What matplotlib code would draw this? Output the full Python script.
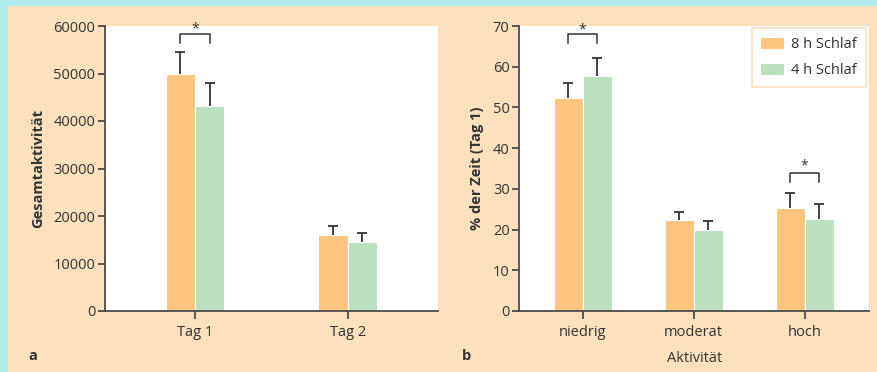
import matplotlib
matplotlib.use("Agg")
import matplotlib.pyplot as plt
from matplotlib.patches import Rectangle
import numpy as np

plt.rcParams['font.family'] = ['Open Sans', 'DejaVu Sans']

# ---- data ----
series = ["8 h Schlaf", "4 h Schlaf"]
days = ["Tag 1", "Tag 2"]
total_8h = [50000, 16000]
total_8h_err = [4500, 2000]
total_4h = [43200, 14500]
total_4h_err = [4800, 2000]

levels = ["niedrig", "moderat", "hoch"]
pct_8h = [52.2, 22.3, 25.2]
pct_8h_err = [3.7, 2.0, 3.7]
pct_4h = [57.6, 19.8, 22.6]
pct_4h_err = [4.6, 2.3, 3.6]

a_ticks = [0, 10000, 20000, 30000, 40000, 50000, 60000]
b_ticks = [0, 10, 20, 30, 40, 50, 60, 70]

# ---- style ----
PEACH = "#FDE0BC"
CYAN = "#B0ECEC"
ORANGE = "#FDC580"
GREEN = "#BBDFBF"
DARK = "#333333"
SPINE = "#4a4a4a"

W, H = 878, 372
fig = plt.figure(figsize=(W / 100, H / 100), dpi=100)
fig.patch.set_facecolor(PEACH)
fig.patches.append(Rectangle((0, 1 - 6 / H), 1, 6 / H, transform=fig.transFigure,
                             facecolor=CYAN, edgecolor='none', zorder=0))
fig.patches.append(Rectangle((0, 0), 8 / W, 1, transform=fig.transFigure,
                             facecolor=CYAN, edgecolor='none', zorder=0))


def make_ax(l, r, t=26, b=311):
    return fig.add_axes([l / W, (H - b) / H, (r - l) / W, (b - t) / H])


def style(ax):
    ax.set_facecolor("white")
    for s in ["top", "right"]:
        ax.spines[s].set_visible(False)
    for s in ["left", "bottom"]:
        ax.spines[s].set_color(SPINE)
        ax.spines[s].set_linewidth(1.3)
    ax.tick_params(axis='both', colors=SPINE, labelcolor=DARK, labelsize=10.5,
                   width=1.3, length=5, direction='out', pad=2)
    ax.tick_params(axis='x', length=6, pad=4)


def bracket(ax, x1, x2, ytop, ybot, ystar):
    ax.plot([x1, x1, x2, x2], [ybot, ytop, ytop, ybot], color=DARK, lw=1.1,
            clip_on=False, zorder=5)
    ax.text((x1 + x2) / 2, ystar, "*", ha='center', va='center', fontsize=10,
            color=DARK, clip_on=False)


def upper_err(ax, x, vals, errs):
    x = np.asarray(x, float)
    vals = np.asarray(vals, float)
    errs = np.asarray(errs, float)
    tops = vals + errs
    ax.vlines(x, vals, tops, color=DARK, lw=1.3, zorder=3)
    ax.plot(x, tops, linestyle='none', marker='_', markersize=7, mew=1.3,
            color=DARK, zorder=3)


# ---- panel a ----
axa = make_ax(105, 438)
style(axa)
xa = np.arange(len(days))
wa = 0.192
axa.bar(xa - wa / 2, total_8h, wa, color=ORANGE, edgecolor='white', linewidth=0.8, zorder=2)
axa.bar(xa + wa / 2, total_4h, wa, color=GREEN, edgecolor='white', linewidth=0.8, zorder=2)
upper_err(axa, xa - wa / 2, total_8h, total_8h_err)
upper_err(axa, xa + wa / 2, total_4h, total_4h_err)
axa.set_xlim(-0.589, 1.591)
axa.set_ylim(0, 60000)
axa.set_yticks(a_ticks)
axa.set_xticks(xa)
axa.set_xticklabels(days)
axa.set_ylabel("Gesamtaktivität", fontsize=10.5, fontweight='bold', color=DARK, labelpad=6)
bracket(axa, -wa / 2, wa / 2, 58380, 56480, 59300)

# ---- panel b ----
axb = make_ax(519.3, 869)
style(axb)
xb = np.arange(len(levels))
wb = 0.262
axb.bar(xb - wb / 2, pct_8h, wb, color=ORANGE, edgecolor='white', linewidth=0.8,
        zorder=2, label=series[0])
axb.bar(xb + wb / 2, pct_4h, wb, color=GREEN, edgecolor='white', linewidth=0.8,
        zorder=2, label=series[1])
upper_err(axb, xb - wb / 2, pct_8h, pct_8h_err)
upper_err(axb, xb + wb / 2, pct_4h, pct_4h_err)
axb.set_xlim(-0.571, 2.58)
axb.set_ylim(0, 70)
axb.set_yticks(b_ticks)
axb.set_xticks(xb)
axb.set_xticklabels(levels)
axb.set_ylabel("% der Zeit (Tag 1)", fontsize=10.5, fontweight='bold', color=DARK, labelpad=6)
axb.set_xlabel("Aktivität", fontsize=10.5, color=DARK, labelpad=8)
bracket(axb, -wb / 2, wb / 2, 68.1, 65.9, 69.0)
bracket(axb, 2 - wb / 2, 2 + wb / 2, 33.8, 31.6, 35.7)

leg = axb.legend(loc='upper right', bbox_to_anchor=(0.99, 0.993), borderaxespad=0,
                 fontsize=10.5, frameon=True, fancybox=False, edgecolor=PEACH,
                 facecolor='white', framealpha=1, handlelength=1.6, handleheight=0.9,
                 handletextpad=0.5, labelspacing=0.75, borderpad=0.6)
leg.get_frame().set_linewidth(1.2)
for t in leg.get_texts():
    t.set_color(DARK)

fig.text(33 / W, 1 - 356 / H, "a", fontsize=10.5, fontweight='bold', color=DARK,
         ha='center', va='center')
fig.text(467 / W, 1 - 356 / H, "b", fontsize=10.5, fontweight='bold', color=DARK,
         ha='center', va='center')

fig.savefig("out.png", dpi=100, facecolor=fig.get_facecolor())
